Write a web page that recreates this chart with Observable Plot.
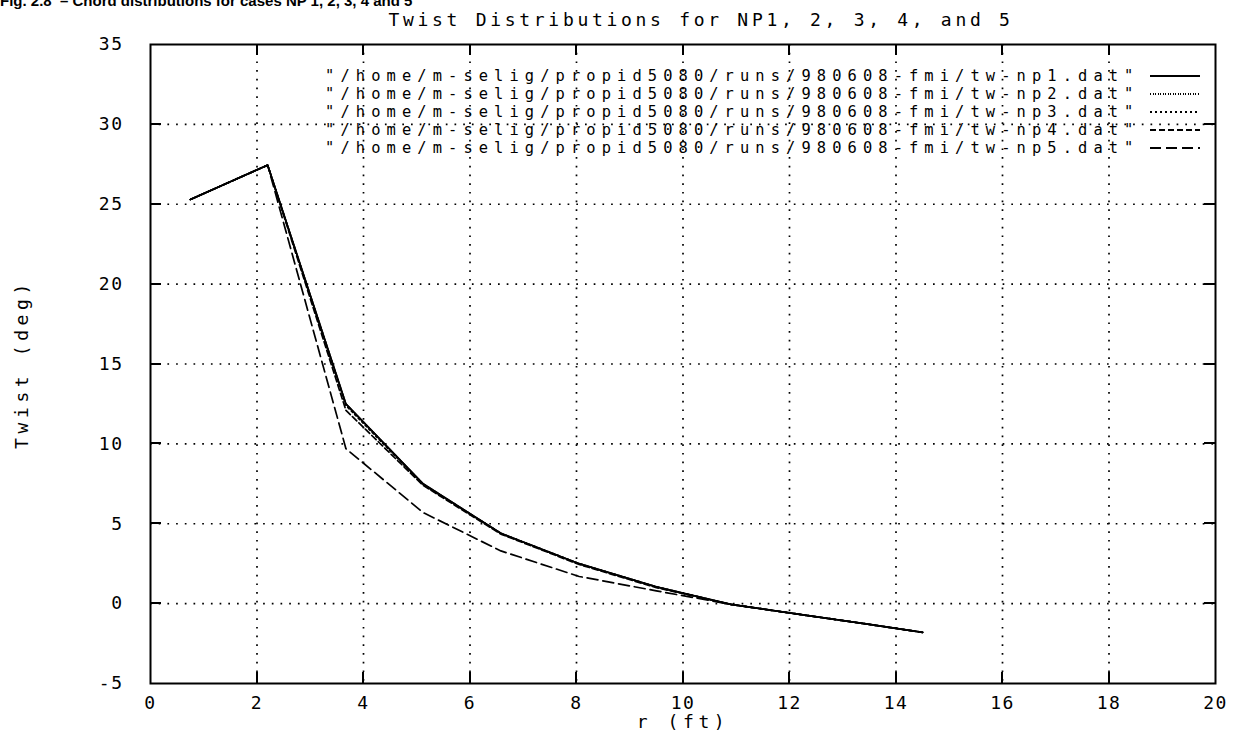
<!DOCTYPE html>
<html>
<head>
<meta charset="utf-8">
<script src="https://cdn.jsdelivr.net/npm/d3@7"></script>
<script src="https://cdn.jsdelivr.net/npm/@observablehq/plot@0.6"></script>
<style>
  html, body { margin: 0; padding: 0; background: #fff; overflow: hidden; }
  #wrap { position: relative; width: 1250px; height: 742px; }
  #fig { position: absolute; left: 0; top: -7px; font: bold 15px "Liberation Sans", Arial, sans-serif; line-height: 15px; white-space: nowrap; color: #000; }
  #chart { position: absolute; left: 0; top: 0; }
</style>
</head>
<body>
<div id="wrap">
  <div id="chart"></div>
  <div id="fig">Fig. 2.8 &nbsp;– Chord distributions for cases NP 1, 2, 3, 4 and 5</div>
</div>
<script>
// ---- data ----
const rFt = [0.75, 2.2, 3.67, 5.12, 6.58, 8.05, 9.5, 10.9, 12.35, 13.5, 14.5];
const np1 = [25.3, 27.45, 12.5, 7.5, 4.4, 2.5, 1.05, -0.05, -0.75, -1.3, -1.8];
const np2 = [25.3, 27.45, 12.5, 7.5, 4.4, 2.5, 1.05, -0.05, -0.75, -1.3, -1.8];
const np3 = [25.3, 27.45, 12.4, 7.45, 4.4, 2.5, 1.05, -0.05, -0.75, -1.3, -1.8];
const np4 = [25.3, 27.45, 12.1, 7.4, 4.35, 2.45, 1.0, -0.05, -0.75, -1.3, -1.8];
const np5 = [25.3, 27.45, 9.7, 5.7, 3.3, 1.7, 0.8, -0.05, -0.75, -1.3, -1.8];
const seriesLabels = [
  "\"/home/m-selig/propid5080/runs/980608-fmi/tw-np1.dat\"",
  "\"/home/m-selig/propid5080/runs/980608-fmi/tw-np2.dat\"",
  "\"/home/m-selig/propid5080/runs/980608-fmi/tw-np3.dat\"",
  "\"/home/m-selig/propid5080/runs/980608-fmi/tw-np4.dat\"",
  "\"/home/m-selig/propid5080/runs/980608-fmi/tw-np5.dat\""
];
const xTicks = [0, 2, 4, 6, 8, 10, 12, 14, 16, 18, 20];
const yTicks = [-5, 0, 5, 10, 15, 20, 25, 30, 35];
const titleText = "Twist Distributions for NP1, 2, 3, 4, and 5";
const xLabel = "r (ft)";
const yLabel = "Twist (deg)";

// ---- styles ----
const seriesValues = [np1, np2, np3, np4, np5];
const dashes = [null, "1.2,1.3", "2,3", "6,3", "11,5"];
const tables = seriesValues.map(vals => rFt.map((r, i) => ({r, twist: vals[i]})));

const xInner = xTicks.slice(1, -1);
const yInner = yTicks.slice(1, -1);

function ticksMark(index, scales, values, dims) {
  const {x, y} = scales;
  const W = dims.width, H = dims.height;
  const ml = dims.marginLeft, mr = dims.marginRight, mt = dims.marginTop, mb = dims.marginBottom;
  const g = d3.create("svg:g").attr("stroke", "black").attr("stroke-width", 2).attr("shape-rendering", "crispEdges");
  const L = 11;
  for (const t of xInner) {
    const px = Math.round(x(t));
    g.append("line").attr("x1", px).attr("x2", px).attr("y1", H - mb).attr("y2", H - mb - L);
    g.append("line").attr("x1", px).attr("x2", px).attr("y1", mt).attr("y2", mt + L);
  }
  for (const t of yInner) {
    const py = Math.round(y(t));
    g.append("line").attr("y1", py).attr("y2", py).attr("x1", ml).attr("x2", ml + L);
    g.append("line").attr("y1", py).attr("y2", py).attr("x1", W - mr).attr("x2", W - mr - L);
  }
  // legend samples
  seriesLabels.forEach((s, i) => {
    const yy = mt + 32 + 18 * i;
    const ln = g.append("line").attr("x1", W - mr - 65).attr("x2", W - mr - 15)
      .attr("y1", yy).attr("y2", yy).attr("stroke-width", 1.6).attr("shape-rendering", null);
    if (dashes[i]) ln.attr("stroke-dasharray", dashes[i]);
  });
  return g.node();
}

const txtStyle = {fontFamily: "DejaVu Sans Mono, monospace", fontSize: 18};
const legStyle = {fontFamily: "DejaVu Sans Mono, monospace", fontSize: 15.4};

const chart = Plot.plot({
  width: 1250,
  height: 742,
  marginTop: 44,
  marginBottom: 59,
  marginLeft: 150,
  marginRight: 35,
  style: {fontFamily: "DejaVu Sans Mono, monospace", fontSize: "18px", background: "white", letterSpacing: "1.5px", color: "black"},
  x: {domain: [0, 20], ticks: xTicks, label: null},
  y: {domain: [-5, 35], ticks: yTicks, label: null},
  marks: [
    Plot.ruleX(xInner, {stroke: "black", strokeWidth: 1.7, strokeDasharray: "1.7,7"}),
    Plot.ruleY(yInner, {stroke: "black", strokeWidth: 1.7, strokeDasharray: "1.7,7"}),
    Plot.axisX({ticks: xTicks, tickSize: 0, tickPadding: 13, fontSize: 18, tickFormat: d => String(d)}),
    Plot.axisY({ticks: yTicks, tickSize: 0, tickPadding: 27, fontSize: 18, tickFormat: d => String(d)}),
    ...tables.map((t, i) => Plot.line(t, {
      x: "r", y: "twist", stroke: "black", strokeWidth: 1.7,
      strokeDasharray: dashes[i] || undefined, curve: "linear"
    })),
    ...seriesLabels.map((s, i) => Plot.text([s], {
      frameAnchor: "top-right", dx: -76, dy: 32 + 18 * i, text: d => d,
      textAnchor: "end", lineAnchor: "middle", ...legStyle
    })),
    Plot.text([titleText], {frameAnchor: "top", dy: -24, dx: 18, text: d => d, textAnchor: "middle", lineAnchor: "middle", ...txtStyle}),
    Plot.text([xLabel], {frameAnchor: "bottom", dy: 39, text: d => d, textAnchor: "middle", lineAnchor: "middle", ...txtStyle}),
    Plot.text([yLabel], {frameAnchor: "left", dx: -128, rotate: -90, text: d => d, textAnchor: "middle", lineAnchor: "middle", ...txtStyle}),
    ticksMark,
    Plot.frame({stroke: "black", strokeWidth: 2})
  ]
});
// letter spacing to imitate the wide pixel font of the original
const spacing = new Map([
  ...seriesLabels.map(s => [s, "6.1px"]),
  [titleText, "3.7px"],
  [xLabel, "4.6px"],
  [yLabel, "4.6px"]
]);
d3.select(chart).selectAll("text").each(function () {
  const t = this.textContent;
  if (spacing.has(t)) this.setAttribute("letter-spacing", spacing.get(t));
});
document.getElementById("chart").appendChild(chart);
</script>
</body>
</html>
